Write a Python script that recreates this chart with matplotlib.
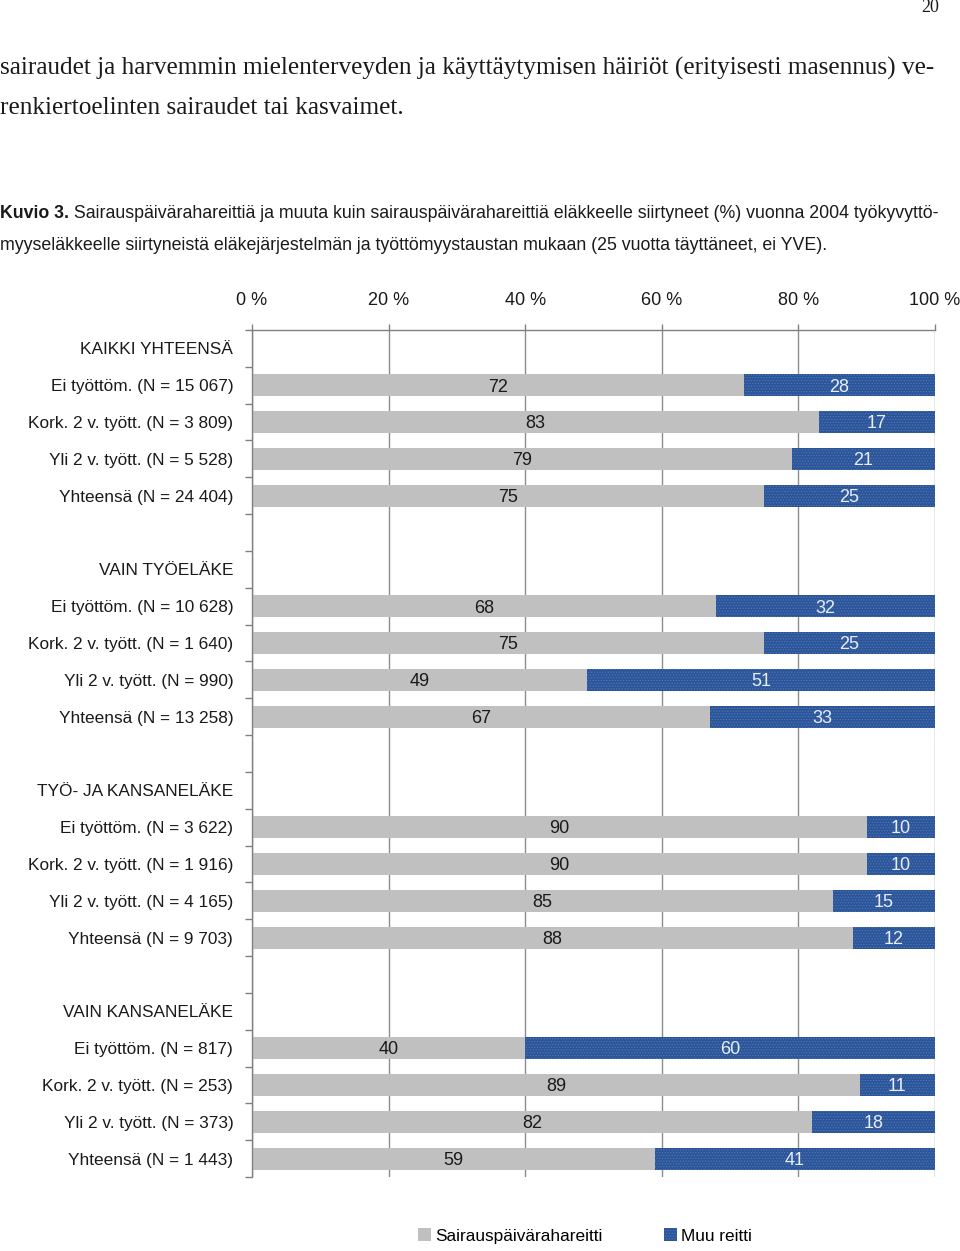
import matplotlib
matplotlib.use("Agg")
import matplotlib.pyplot as plt
from matplotlib import font_manager
import numpy as np

# ---- data ----
ROW_LABELS = [
    "KAIKKI YHTEENSÄ",
    "Ei työttöm. (N = 15 067)", "Kork. 2 v. tyött. (N = 3 809)",
    "Yli 2 v. tyött. (N = 5 528)", "Yhteensä (N = 24 404)",
    "",
    "VAIN TYÖELÄKE",
    "Ei työttöm. (N = 10 628)", "Kork. 2 v. tyött. (N = 1 640)",
    "Yli 2 v. tyött. (N = 990)", "Yhteensä (N = 13 258)",
    "",
    "TYÖ- JA KANSANELÄKE",
    "Ei työttöm. (N = 3 622)", "Kork. 2 v. tyött. (N = 1 916)",
    "Yli 2 v. tyött. (N = 4 165)", "Yhteensä (N = 9 703)",
    "",
    "VAIN KANSANELÄKE",
    "Ei työttöm. (N = 817)", "Kork. 2 v. tyött. (N = 253)",
    "Yli 2 v. tyött. (N = 373)", "Yhteensä (N = 1 443)",
]
# None = header / spacer row without a bar
SAIRAUS = [None, 72, 83, 79, 75, None,
           None, 68, 75, 49, 67, None,
           None, 90, 90, 85, 88, None,
           None, 40, 89, 82, 59]
MUU = [None, 28, 17, 21, 25, None,
       None, 32, 25, 51, 33, None,
       None, 10, 10, 15, 12, None,
       None, 60, 11, 18, 41]
X_TICKS = [0, 20, 40, 60, 80, 100]
SERIES = ["Sairauspäivärahareitti", "Muu reitti"]

BODY = ["sairaudet ja harvemmin mielenterveyden ja käyttäytymisen häiriöt (erityisesti masennus) ve-",
        "renkiertoelinten sairaudet tai kasvaimet."]
CAPTION_BOLD = "Kuvio 3."
CAPTION_1 = " Sairauspäivärahareittiä ja muuta kuin sairauspäivärahareittiä eläkkeelle siirtyneet (%) vuonna 2004 työkyvyttö-"
CAPTION_2 = "myyseläkkeelle siirtyneistä eläkejärjestelmän ja työttömyystaustan mukaan (25 vuotta täyttäneet, ei YVE)."

GRAY = "#c0c0c0"
BLUE = "#2b5499"
INK = "#1a1a1a"

names = {f.name for f in font_manager.fontManager.ttflist}
SANS = "Liberation Sans Narrow" if "Liberation Sans Narrow" in names else "Liberation Sans"
SERIF = "Liberation Serif"
plt.rcParams["font.family"] = [SANS, "DejaVu Sans"]
plt.rcParams["hatch.linewidth"] = 0.6

fig = plt.figure(figsize=(9.6, 12.51), dpi=100)
ax = fig.add_axes([252 / 960, 1 - 1177 / 1251, 683 / 960, (1177 - 330) / 1251])

n = len(ROW_LABELS)
y = np.arange(n)
bar_h = 0.6
for i in range(n):
    if SAIRAUS[i] is None:
        continue
    s, m = SAIRAUS[i], MUU[i]
    ax.barh(y[i], s, height=bar_h, color=GRAY, linewidth=0, zorder=2,
            label=SERIES[0] if i == 1 else None)
    ax.barh(y[i], m, left=s, height=bar_h, facecolor=BLUE, edgecolor="#4f77b5",
            hatch="......", linewidth=0, zorder=2,
            label=SERIES[1] if i == 1 else None)
    ax.text(s / 2, y[i] + 0.05, str(s), ha="center", va="center", fontsize=13,
            color=INK, zorder=4)
    ax.text(s + m / 2, y[i] + 0.05, str(m), ha="center", va="center", fontsize=13,
            color="#e8eef8", zorder=4)

ax.set_xlim(0, 100)
ax.set_ylim(n - 0.5, -0.5)

# category labels at row centres, small ticks at row boundaries
ax.set_yticks(y)
ax.set_yticklabels(ROW_LABELS, fontsize=12.4, color=INK)
ax.tick_params(axis="y", which="major", length=0, pad=13.5)
ax.set_yticks(np.arange(n + 1) - 0.5, minor=True)
ax.tick_params(axis="y", which="minor", length=5, color="#808080", width=1)

# percentage axis on top
ax.xaxis.tick_top()
ax.set_xticks(X_TICKS)
ax.set_xticklabels([f"{t} %" for t in X_TICKS], fontsize=13, color=INK)
ax.tick_params(axis="x", length=4, color="#808080", width=1, pad=11)
ax.grid(axis="x", color="#8c8c8c", linewidth=1, zorder=1)
ax.set_axisbelow(True)

for side in ("right", "bottom"):
    ax.spines[side].set_visible(False)
for side in ("left", "top"):
    ax.spines[side].set_color("#808080")
    ax.spines[side].set_linewidth(1)

# page text
fig.text(930 / 960, 1 - 8 / 1251, "20", ha="center", va="center",
         fontsize=13, family=SERIF, color=INK)
fig.text(0, 1 - 68 / 1251, BODY[0], ha="left", va="center",
         fontsize=18.2, family=SERIF, color=INK)
fig.text(0, 1 - 108 / 1251, BODY[1], ha="left", va="center",
         fontsize=18.2, family=SERIF, color=INK)
t1 = fig.text(0, 1 - 213 / 1251, CAPTION_BOLD, ha="left", va="center",
              fontsize=12.8, fontweight="bold", color=INK)
ax.annotate(CAPTION_1, xy=(1, 0.5), xycoords=t1, ha="left", va="center",
            fontsize=12.8, color=INK, annotation_clip=False)
fig.text(0, 1 - 245 / 1251, CAPTION_2, ha="left", va="center",
         fontsize=12.8, color=INK)

fig.legend(loc="center", bbox_to_anchor=(585 / 960, 1 - 1236 / 1251),
           ncol=2, frameon=False, fontsize=12.4, handlelength=0.75,
           handleheight=0.75, handletextpad=0.25, columnspacing=3.6)

fig.savefig("out.png", dpi=100)
